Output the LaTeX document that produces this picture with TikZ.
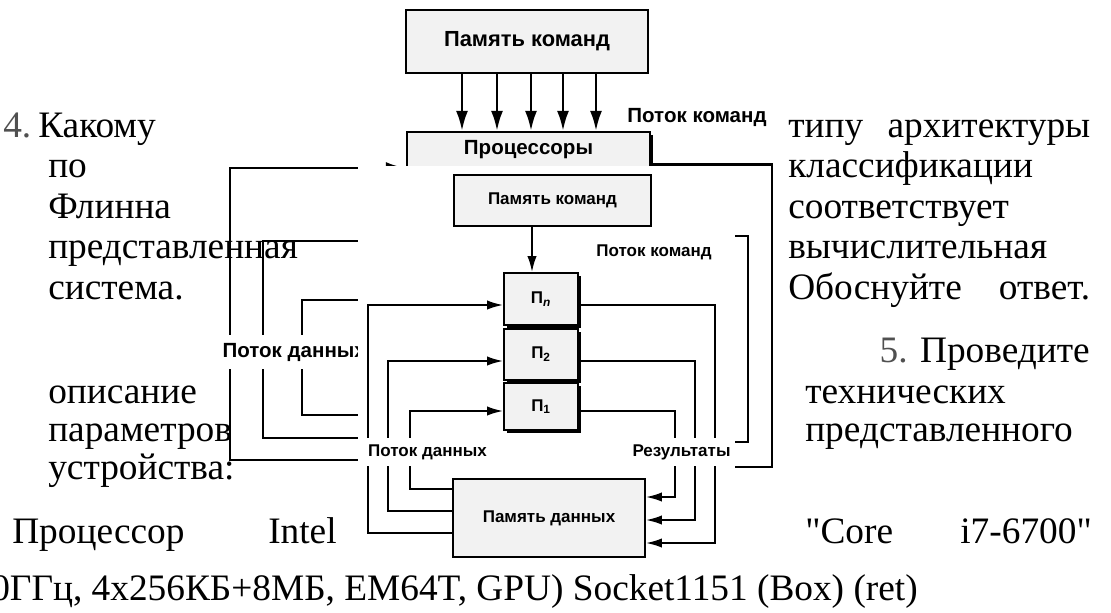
\documentclass[tikz,border=0pt]{standalone}
\usepackage{fontspec}
\setmainfont{Liberation Serif}
\newfontfamily\qfont{Liberation Serif}
\newfontfamily\dgfont{Liberation Sans}
\usetikzlibrary{arrows.meta,shadows}
\definecolor{numgray}{RGB}{80,80,80}
\newcommand{\bgtext}{\dgfont\bfseries\fontsize{15.4pt}{18pt}\selectfont}
\newcommand{\bgbigtext}{\dgfont\bfseries\fontsize{16.4pt}{19pt}\selectfont}
\newcommand{\otext}{\dgfont\bfseries\fontsize{12.75pt}{15pt}\selectfont}
\newcommand{\dq}{{\qfont"}}
\begin{document}
\begin{tikzpicture}[x=0.75pt,y=-0.75pt,
  bgline/.style={line width=1.8pt,line join=miter},
  oline/.style={line width=1.4pt,line join=miter},
  bgarr/.style={-{Latex[length=15pt,width=9pt]}},
  oarr/.style={-{Latex[length=12pt,width=7pt]}},
  bgbox/.style={draw,line width=1.8pt,fill=black!5,inner sep=0pt,font=\bgtext},
  obox/.style={draw,line width=1.4pt,fill=black!5,inner sep=0pt,font=\otext},
  pshadow/.style={drop shadow={shadow xshift=2.4pt,shadow yshift=-2.4pt,fill=black,opacity=1}},
  bglabel/.style={font=\bgtext,fill=white,inner xsep=1pt,inner ysep=6pt},
  olabel/.style={font=\otext,inner xsep=1pt,inner ysep=5pt},
  tx/.style={font=\fontsize{28pt}{31pt}\selectfont,inner sep=0pt,anchor=base west},
  txr/.style={tx,anchor=base east}]
\useasboundingbox (0,0) rectangle (1111,612);
\clip (0,0) rectangle (1111,612);

% ---------- background diagram (partly covered) ----------
\node[bgbox,font=\bgbigtext,minimum width=242*0.75pt,minimum height=63*0.75pt] (bgpk) at (527,41.5) {Память команд};
\node[bgbox,pshadow,minimum width=243*0.75pt,minimum height=36*0.75pt] (bgproc) at (528.5,150) {Процессоры};
\foreach \x in {462,497,531,563,596}
  \draw[bgline,bgarr] (bgpk.south -| \x,0) -- (bgproc.north -| \x,0);
\node[font=\bgtext,inner sep=0pt] (bgflowc) at (697,117) {Поток команд};

\draw[bgline,bgarr] (400,460) -- (230,460) -- (230,168) -- (bgproc.west |- 0,168);
\draw[bgline] (400,438) -- (263,438) -- (263,241) -- (400,241);
\draw[bgline] (400,415) -- (302,415) -- (302,300) -- (400,300);
\node[bglabel,anchor=west] (bgflowd) at (221,352) {Поток данных};

\draw[bgline] (bgproc.east |- 0,164.5) -- (772,164.5) -- (772,467) -- (700,467);
\draw[bgline] (700,236) -- (748,236) -- (748,442) -- (700,442);

% ---------- overlaid diagram ----------
\fill[white] (358,166) rectangle (735,562);

\node[obox,minimum width=197*0.75pt,minimum height=51*0.75pt] (opk) at (552.5,200.5) {Память команд};
\node[obox,pshadow,minimum width=74*0.75pt,minimum height=52*0.75pt] (pn) at (541,299) {П\textsubscript{\itshape n}};
\node[obox,pshadow,minimum width=74*0.75pt,minimum height=51*0.75pt] (p2) at (541,354.5) {П\textsubscript{2}};
\node[obox,pshadow,minimum width=74*0.75pt,minimum height=47*0.75pt] (p1) at (541,406.5) {П\textsubscript{1}};
\node[obox,minimum width=192*0.75pt,minimum height=78*0.75pt] (pd) at (549,518) {Память данных};

\draw[oline,oarr] (opk.south -| 532,0) -- (pn.north -| 532,0);

\draw[oline,oarr] (pd.west |- 0,533) -- (368,533) -- (368,305) -- (pn.west |- 0,305);
\draw[oline,oarr] (pd.west |- 0,511) -- (388,511) -- (388,361) -- (p2.west |- 0,361);
\draw[oline,oarr] (pd.west |- 0,489) -- (410,489) -- (410,411) -- (p1.west |- 0,411);

\draw[oline,oarr] (pn.east |- 0,305) -- (715,305) -- (715,543) -- (pd.east |- 0,543);
\draw[oline,oarr] (p2.east |- 0,361) -- (695,361) -- (695,520) -- (pd.east |- 0,520);
\draw[oline,oarr] (p1.east |- 0,411) -- (675,411) -- (675,497) -- (pd.east |- 0,497);

\node[olabel] (oflowc) at (654,252) {Поток команд};
\node[olabel,fill=white] (oflowd) at (427.5,452) {Поток данных};
\node[olabel,fill=white] (ores) at (681.5,452) {Результаты};

% ---------- text ----------
\node[tx,text=numgray] (n4) at (3,137) {4.};
\node[tx] (l1) at (38,137) {Какому};
\node[tx] (l2) at (48,177) {по};
\node[tx] (l3) at (48,218) {Флинна};
\node[tx] (l4) at (48,258) {представленная};
\node[tx] (l5) at (48,299) {система.};
\node[tx] (l6) at (48,403) {описание};
\node[tx] (l7) at (48,441) {параметров};
\node[tx] (l8) at (48,479) {устройства:};
\node[tx] (l9a) at (12,543) {Процессор};
\node[tx] (l9b) at (268,543) {Intel};
\node[tx] (l9c) at (805,543) {\dq Core};
\node[txr] (l9d) at (1092,543) {i7-6700\dq};
\node[tx] (l10) at (-9,600) {0ГГц, 4x256КБ+8МБ, EM64T, GPU) Socket1151 (Box) (ret)};

\node[tx] (r1) at (788,137) {\makebox[226.5pt][s]{типу архитектуры}};
\node[tx] (r2) at (788,177) {классификации};
\node[tx] (r3) at (788,218) {соответствует};
\node[tx] (r4) at (788,258) {вычислительная};
\node[tx] (r5) at (788,299) {\makebox[226.5pt][s]{Обоснуйте ответ.}};
\node[txr] (r6) at (1090,362) {{\color{numgray}5.} Проведите};
\node[tx] (r7) at (805,403) {технических};
\node[tx] (r8) at (805,441) {представленного};
\end{tikzpicture}
\end{document}
